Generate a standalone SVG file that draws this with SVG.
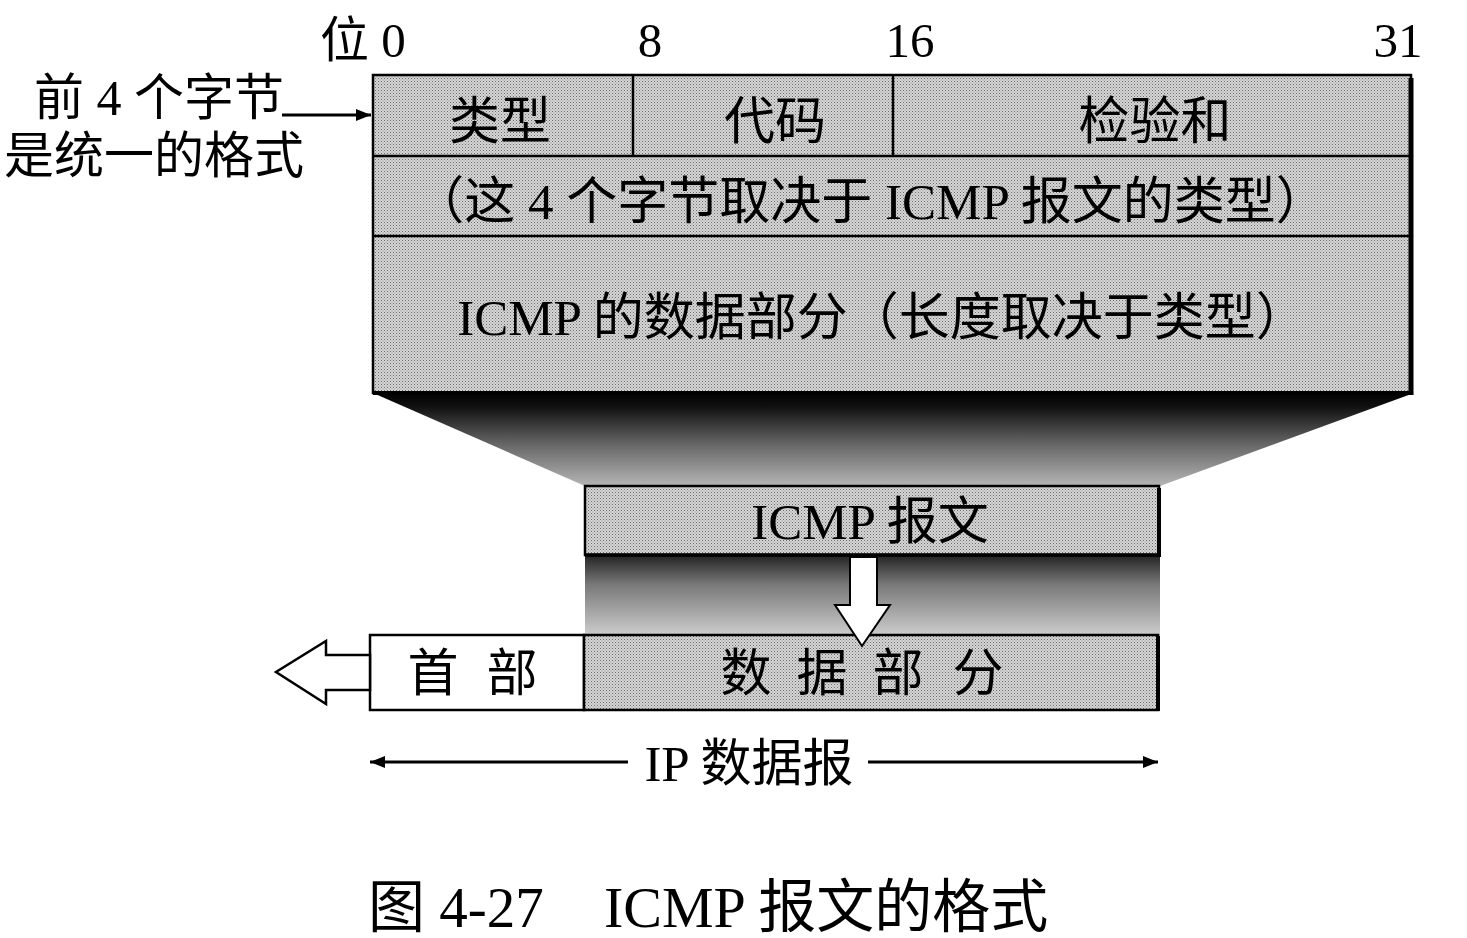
<svg xmlns="http://www.w3.org/2000/svg" width="1467" height="938" viewBox="0 0 1467 938">
<style>
.t{font-family:"Liberation Serif","Noto Sans CJK SC",serif;fill:#000}
.c{font-size:51px;text-anchor:middle}
.box{stroke:#000;stroke-width:2.5}
.ln{stroke:#000;stroke-width:2.5;fill:none}
</style>
<defs>
<pattern id="ht" width="3" height="3" patternUnits="userSpaceOnUse">
<rect width="3" height="3" fill="#d6d6d6"/>
<rect width="1" height="1" fill="#6a6a6a"/>
<rect x="1.5" y="1.5" width="1" height="1" fill="#8a8a8a"/>
</pattern>
<linearGradient id="g1" x1="0" y1="0" x2="0" y2="1">
<stop offset="0" stop-color="#000"/>
<stop offset="0.15" stop-color="#111"/>
<stop offset="0.55" stop-color="#666"/>
<stop offset="1" stop-color="#b5b5b5"/>
</linearGradient>
<linearGradient id="g2" x1="0" y1="0" x2="0" y2="1">
<stop offset="0" stop-color="#222"/>
<stop offset="0.35" stop-color="#777"/>
<stop offset="1" stop-color="#d0d0d0"/>
</linearGradient>
<marker id="ah" viewBox="0 0 10 10" refX="10" refY="5" markerWidth="5" markerHeight="5" orient="auto-start-reverse">
<path d="M0,1 L10,5 L0,9 Z" fill="#000"/>
</marker>
</defs>

<g id="shadows">
<polygon points="373,393 1414,393 1160,486 585,486" fill="url(#g1)"/>
<rect x="585" y="555" width="575" height="82" fill="url(#g2)"/>
</g>

<g id="header-labels">
<text class="t" x="320" y="57" font-size="49">位 0</text>
<text class="t" x="650" y="57" font-size="49" text-anchor="middle">8</text>
<text class="t" x="910" y="57" font-size="49" text-anchor="middle">16</text>
<text class="t" x="1398" y="57" font-size="49" text-anchor="middle">31</text>
</g>

<g id="left-note">
<text class="t" x="34" y="115" font-size="50">前 4 个字节</text>
<text class="t" x="4" y="173" font-size="50">是统一的格式</text>
</g>

<g id="main-box">
<rect class="box" x="373" y="75" width="1038" height="318" fill="url(#ht)"/>
<line x1="1411" y1="78" x2="1411" y2="395" stroke="#000" stroke-width="5"/>
<line x1="373" y1="393" x2="1413" y2="393" stroke="#000" stroke-width="4"/>
<line class="ln" x1="373" y1="156" x2="1411" y2="156"/>
<line class="ln" x1="373" y1="236" x2="1411" y2="236"/>
<line class="ln" x1="633" y1="75" x2="633" y2="156"/>
<line class="ln" x1="893" y1="75" x2="893" y2="156"/>
<text class="t c" x="500" y="139">类型</text>
<text class="t c" x="775" y="139">代码</text>
<text class="t c" x="1155" y="139">检验和</text>
<text class="t c" x="870" y="219" font-size="50">（这 4 个字节取决于 ICMP 报文的类型）</text>
<text class="t c" x="882" y="335" font-size="52">ICMP 的数据部分（长度取决于类型）</text>
</g>

<g id="icmp-msg">
<rect class="box" x="585" y="486" width="574" height="69" fill="url(#ht)"/>
<line x1="1159" y1="488" x2="1159" y2="557" stroke="#000" stroke-width="4"/>
<line x1="585" y1="555" x2="1161" y2="555" stroke="#000" stroke-width="3.5"/>
<text class="t c" x="870" y="539" font-size="52">ICMP 报文</text>
</g>

<g id="header">
<rect class="box" x="370" y="635" width="214" height="75" fill="#fff"/>
<text class="t c" x="433" y="691" font-size="50">首</text>
<text class="t c" x="512" y="691" font-size="50">部</text>
</g>

<g id="data">
<rect class="box" x="584" y="635" width="574" height="75" fill="url(#ht)"/>
<line x1="1158" y1="636" x2="1158" y2="711" stroke="#000" stroke-width="4"/>
<text class="t c" x="746" y="691" font-size="50">数</text>
<text class="t c" x="822" y="691" font-size="50">据</text>
<text class="t c" x="898" y="691" font-size="50">部</text>
<text class="t c" x="978" y="691" font-size="50">分</text>
</g>

<g id="connectors">
<line x1="282" y1="115" x2="371" y2="115" stroke="#000" stroke-width="3" marker-end="url(#ah)"/>
<polygon points="850,557 877,557 877,605 890,605 862,646 835,605 850,605" fill="#fff" stroke="#000" stroke-width="2"/>
<polygon points="370,655 326,655 326,641 276,672 326,704 326,690 370,690" fill="#fff" stroke="#000" stroke-width="2.5"/>
<line x1="370" y1="762" x2="628" y2="762" stroke="#000" stroke-width="3" marker-start="url(#ah)"/>
<line x1="868" y1="762" x2="1158" y2="762" stroke="#000" stroke-width="3" marker-end="url(#ah)"/>
</g>

<g id="labels">
<text class="t c" x="749" y="781" font-size="53">IP 数据报</text>
<text class="t" x="368" y="927" font-size="57">图 4-27</text>
<text class="t" x="604" y="927" font-size="58">ICMP 报文的格式</text>
</g>
</svg>
